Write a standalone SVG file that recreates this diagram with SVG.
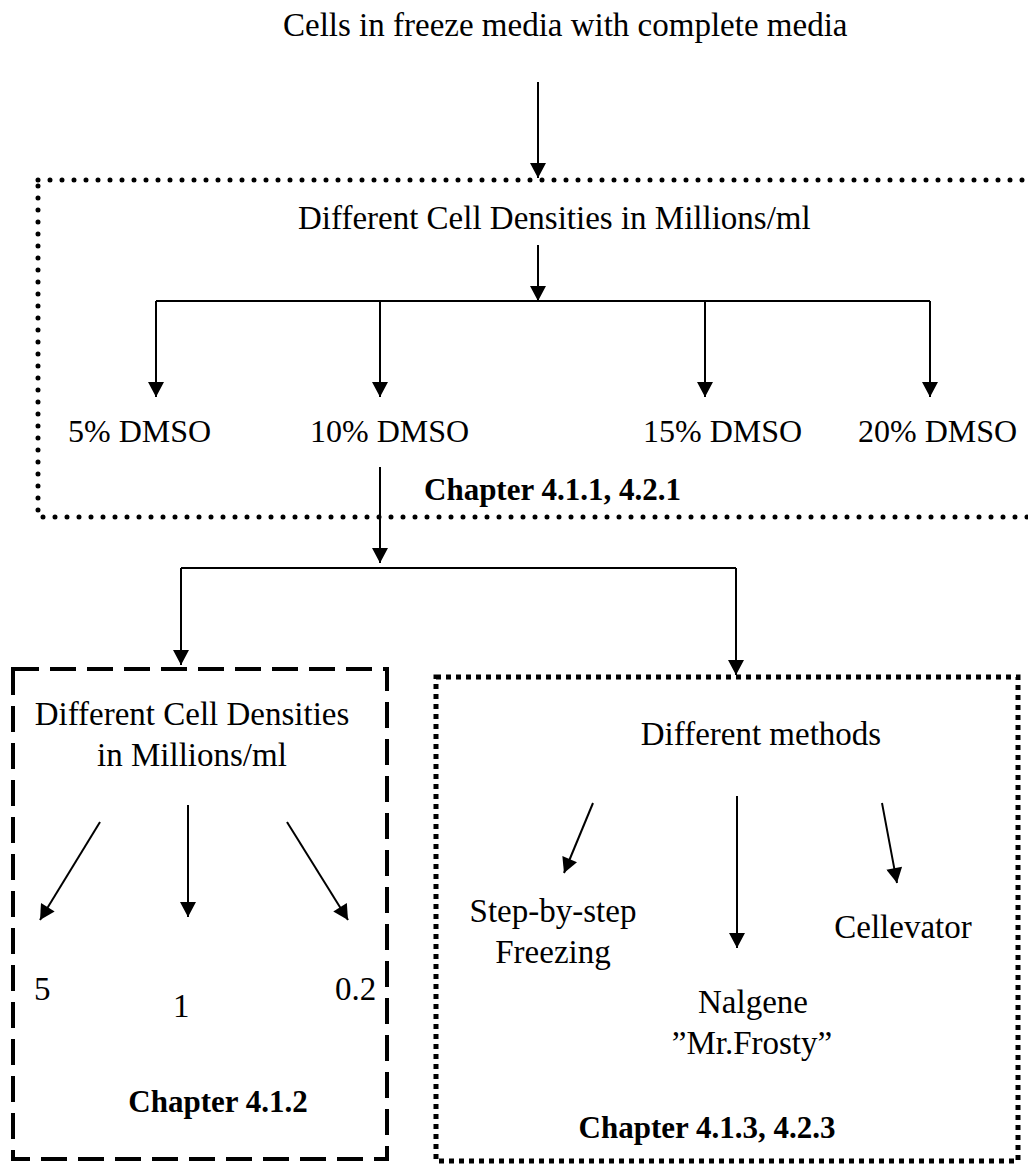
<svg xmlns="http://www.w3.org/2000/svg" width="1028" height="1165" viewBox="0 0 1028 1165">
<style>
.t{font-family:"Liberation Serif","Times New Roman",serif;font-size:33px;fill:#000}
.s{font-size:32px}
.b{font-family:"Liberation Serif","Times New Roman",serif;font-size:31px;font-weight:bold;fill:#000}
.c{stroke:#000;stroke-width:2;fill:none}
.a{marker-end:url(#ah)}
.dot{fill:none;stroke:#000;stroke-width:5;stroke-dasharray:0 12;stroke-linecap:round}
.sq{fill:none;stroke:#000;stroke-width:5;stroke-dasharray:5 5}
.dash{fill:none;stroke:#000;stroke-width:4;stroke-dasharray:26 11}
</style>
<defs>
<marker id="ah" markerUnits="userSpaceOnUse" markerWidth="16" markerHeight="16" viewBox="0 0 15 16" refX="15" refY="8" orient="auto">
<path d="M0,0 L15,8 L0,16 Z" fill="#000"/>
</marker>
</defs>

<g id="node-start">
<text class="t" x="283" y="36">Cells in freeze media with complete media</text>
</g>

<g id="node-dmso-box">
<rect class="dot" x="38" y="180" width="1010" height="337"/>
<text class="t" x="298" y="229">Different Cell Densities in Millions/ml</text>
<text class="b" x="424" y="500">Chapter 4.1.1, 4.2.1</text>
</g>
<g id="node-5dmso"><text class="t s" x="68" y="442">5% DMSO</text></g>
<g id="node-10dmso"><text class="t s" x="310" y="442">10% DMSO</text></g>
<g id="node-15dmso"><text class="t s" x="643" y="442">15% DMSO</text></g>
<g id="node-20dmso"><text class="t s" x="858" y="442">20% DMSO</text></g>

<g id="node-density-box">
<rect class="dash" x="13" y="669" width="374" height="490"/>
<text class="t" x="192" y="725" text-anchor="middle">Different Cell Densities</text>
<text class="t" x="192" y="766" text-anchor="middle">in Millions/ml</text>
<text class="b" x="218" y="1112" text-anchor="middle">Chapter 4.1.2</text>
</g>
<g id="node-d5"><text class="t" x="34" y="1000">5</text></g>
<g id="node-d1"><text class="t" x="173" y="1017">1</text></g>
<g id="node-d02"><text class="t" x="335" y="1000">0.2</text></g>

<g id="node-methods-box">
<rect class="sq" x="436" y="677" width="582" height="484"/>
<text class="t" x="761" y="745" text-anchor="middle">Different methods</text>
<text class="b" x="707" y="1138" text-anchor="middle">Chapter 4.1.3, 4.2.3</text>
</g>
<g id="node-step">
<text class="t" x="553" y="922" text-anchor="middle">Step-by-step</text>
<text class="t" x="553" y="963" text-anchor="middle">Freezing</text>
</g>
<g id="node-nalgene">
<text class="t" x="753" y="1013" text-anchor="middle">Nalgene</text>
<text class="t" x="752" y="1054" text-anchor="middle">”Mr.Frosty”</text>
</g>
<g id="node-cellevator"><text class="t" x="903" y="938" text-anchor="middle">Cellevator</text></g>

<g id="connectors">
<path class="c a" d="M538,82 V178"/>
<path class="c a" d="M538,245 V301"/>
<path class="c" d="M156,301 H930"/>
<path class="c a" d="M156,301 V397"/>
<path class="c a" d="M380,301 V397"/>
<path class="c a" d="M705,301 V397"/>
<path class="c a" d="M930,301 V397"/>
<path class="c a" d="M380,467 V563"/>
<path class="c" d="M181,568 H736"/>
<path class="c a" d="M181,568 V665"/>
<path class="c a" d="M736,568 V675"/>
<path class="c a" d="M100,822 L40,920"/>
<path class="c a" d="M188,805 V917"/>
<path class="c a" d="M287,822 L348,920"/>
<path class="c a" d="M593,803 L564,873"/>
<path class="c a" d="M737,796 V948"/>
<path class="c a" d="M882,803 L897,883"/>
</g>
</svg>
